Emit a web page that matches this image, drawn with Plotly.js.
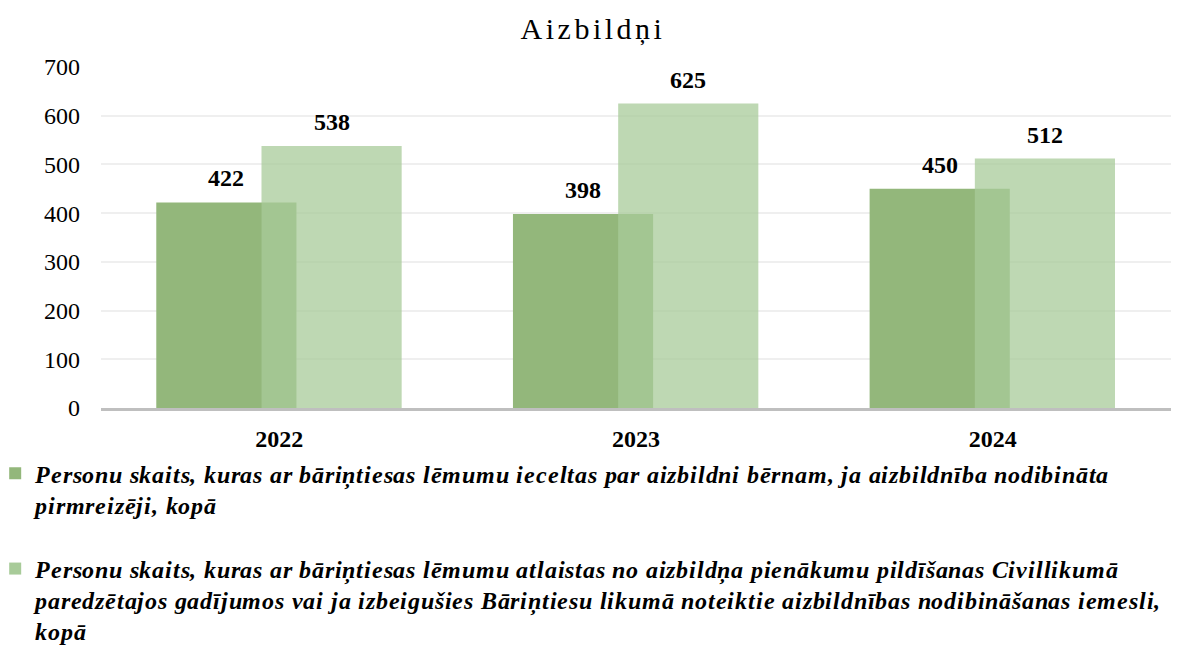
<!DOCTYPE html>
<html><head><meta charset="utf-8">
<script src="https://cdn.plot.ly/plotly-3.0.1.min.js"></script>
<style>
html,body{margin:0;padding:0;background:#fff;}#chart{width:1186px;height:646px;}
@font-face{font-family:'LSBI';src:local('Liberation Serif Bold Italic'),local('LiberationSerif-BoldItalic');font-weight:700;font-style:italic;}
@font-face{font-family:'LSBsynth';src:local('Liberation Serif Bold'),local('LiberationSerif-Bold');font-weight:700;font-style:normal;}
.gtitle{letter-spacing:3.5px;}
.legendtext{letter-spacing:0.8px;}
</style>
</head><body><div id="chart"></div>
<script>
const years = ['2022', '2023', '2024'];
const appointed = [422, 398, 450];
const dismissed = [538, 625, 512];
const nameAppointed = 'Personu skaits, kuras ar bāriņtiesas lēmumu ieceltas par aizbildni bērnam, ja aizbildnība nodibināta<br>pirmreizēji, kopā';
const nameDismissed = 'Personu skaits, kuras ar bāriņtiesas lēmumu atlaistas no aizbildņa pienākumu pildīšanas Civillikumā<br>paredzētajos gadījumos vai ja izbeigušies Bāriņtiesu likumā noteiktie aizbildnības nodibināšanas iemesli,<br>kopā';

const W = 0.393, offA = -0.345, offB = -0.05;
const serif = 'Liberation Serif';
const legendFamily = 'LSBI, LSBsynth, Liberation Serif';

const traces = [
  {type:'bar', x: years, y: appointed, name: nameAppointed, width: W, offset: offA,
   marker:{color:'#93b77b'}, legendgroup:'a', hoverinfo:'y'},
  {type:'bar', x: years, y: dismissed, name: nameDismissed, width: W, offset: offB,
   marker:{color:'rgb(168,203,153)', opacity:0.75}, legendgroup:'b', hoverinfo:'y'}
];

const ann = [];
years.forEach((c, i) => {
  ann.push({x: i + offA + W/2, y: appointed[i], xref:'x', yref:'y', text: String(appointed[i]),
    showarrow:false, yanchor:'bottom', yshift:9, font:{family:serif, size:24, color:'#000', weight:'bold'}});
  ann.push({x: i + offB + W/2, y: dismissed[i], xref:'x', yref:'y', text: String(dismissed[i]),
    showarrow:false, yanchor:'bottom', yshift:9, font:{family:serif, size:24, color:'#000', weight:'bold'}});
});

const layout = {
  width:1186, height:646,
  margin:{l:101, r:15, t:67, b:238},
  paper_bgcolor:'#fff', plot_bgcolor:'#fff',
  barmode:'overlay',
  title:{text:'Aizbildņi', x:0.5, xanchor:'center', y:0.972, yanchor:'top', automargin:false, font:{family:serif, size:30, color:'#000'}},
  font:{family:serif, color:'#000'},
  xaxis:{type:'category', range:[-0.5, 2.5], automargin:false, showgrid:false, ticks:'', showline:true, linecolor:'#bfbfbf', linewidth:3,
    ticklabelstandoff:7, tickfont:{family:serif, size:24, weight:'bold', color:'#000'}, fixedrange:true},
  yaxis:{range:[0,700], dtick:100, automargin:false, showgrid:true, gridcolor:'#efefef', gridwidth:2, zeroline:false, showline:false,
    ticks:'', ticklabelstandoff:20, tickfont:{family:serif, size:24, color:'#000'}, fixedrange:true},
  legend:{x:-0.083, xanchor:'left', y:-0.66, yanchor:'bottom', orientation:'v', tracegroupgap:30, valign:'top',
    font:{family:legendFamily, size:24, color:'#000', weight:'bold', style:'italic'}, bgcolor:'rgba(0,0,0,0)', itemwidth:30},
  annotations: ann,
  showlegend:true
};

Plotly.newPlot('chart', traces, layout, {displayModeBar:false, staticPlot:true}).then(gd => {
  // nudge legend block to the reference position (Plotly keeps a 12px safety pad at figure edges)
  const lg = gd.querySelector('g.legend');
  if (lg) {
    const t = lg.getAttribute('transform') || '';
    const m = t.match(/translate\(\s*([-\d.]+)[ ,]+([-\d.]+)\s*\)/);
    if (m) lg.setAttribute('transform', 'translate(' + (parseFloat(m[1]) - 17) + ',' + (parseFloat(m[2]) + 20) + ')');
  }
});
</script></body></html>
